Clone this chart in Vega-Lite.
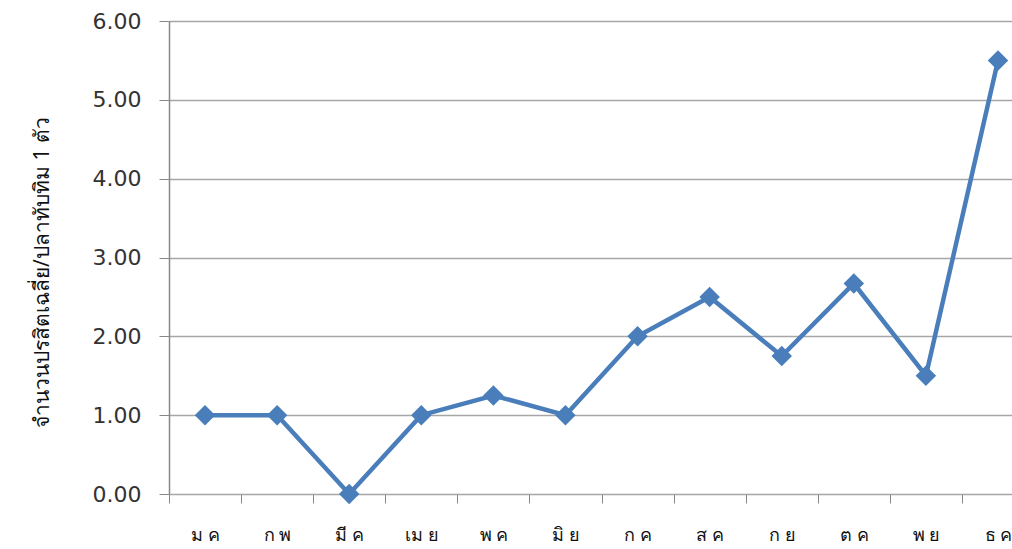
{
  "$schema": "https://vega.github.io/schema/vega-lite/v6.json",
  "width": 843,
  "height": 473,
  "autosize": {"type": "none"},
  "padding": {"left": 169, "top": 21, "right": 0, "bottom": 55},
  "background": "white",
  "config": {"view": {"stroke": null}},
  "data": {
    "values": [
      {"month": "ม ค", "value": 1.0},
      {"month": "ก พ", "value": 1.0},
      {"month": "มี ค", "value": 0.0},
      {"month": "เม ย", "value": 1.0},
      {"month": "พ ค", "value": 1.25},
      {"month": "มิ ย", "value": 1.0},
      {"month": "ก ค", "value": 2.0},
      {"month": "ส ค", "value": 2.5},
      {"month": "ก ย", "value": 1.75},
      {"month": "ต ค", "value": 2.67},
      {"month": "พ ย", "value": 1.5},
      {"month": "ธ ค", "value": 5.5}
    ]
  },
  "mark": {
    "type": "line",
    "color": "#4a7ebb",
    "strokeWidth": 4.5,
    "point": {"shape": "diamond", "size": 420, "filled": true, "color": "#4a7ebb", "opacity": 1}
  },
  "encoding": {
    "x": {
      "field": "month",
      "type": "ordinal",
      "sort": null,
      "scale": {"type": "point", "padding": 0.347, "align": 0.72},
      "axis": {
        "title": null,
        "labelAngle": 0,
        "domain": false,
        "ticks": true,
        "tickOffset": -36,
        "labelOffset": 36,
        "tickSize": 9,
        "tickColor": "#888888",
        "tickWidth": 1,
        "labelFont": "Noto Sans",
        "labelFontSize": 18,
        "labelColor": "#111111",
        "labelPadding": 23,
        "labelOverlap": false,
        "grid": false
      }
    },
    "y": {
      "field": "value",
      "type": "quantitative",
      "scale": {"domain": [0, 6], "nice": false},
      "axis": {
        "title": "จำนวนปรสิตเฉลี่ย/ปลาทับทิม 1 ตัว",
        "titleFont": "Noto Sans",
        "titleFontSize": 21,
        "titleFontWeight": "normal",
        "titleColor": "#111111",
        "titlePadding": 40,
        "titleY": 251,
        "values": [0, 1, 2, 3, 4, 5, 6],
        "format": ".2f",
        "labelFont": "DejaVu Sans",
        "labelFontSize": 22,
        "labelColor": "#333333",
        "labelPadding": 18,
        "tickSize": 10,
        "tickColor": "#888888",
        "domain": true,
        "domainColor": "#888888",
        "domainWidth": 1.5,
        "grid": true,
        "gridColor": "#a6a6a6",
        "gridWidth": 1.5
      }
    }
  }
}
